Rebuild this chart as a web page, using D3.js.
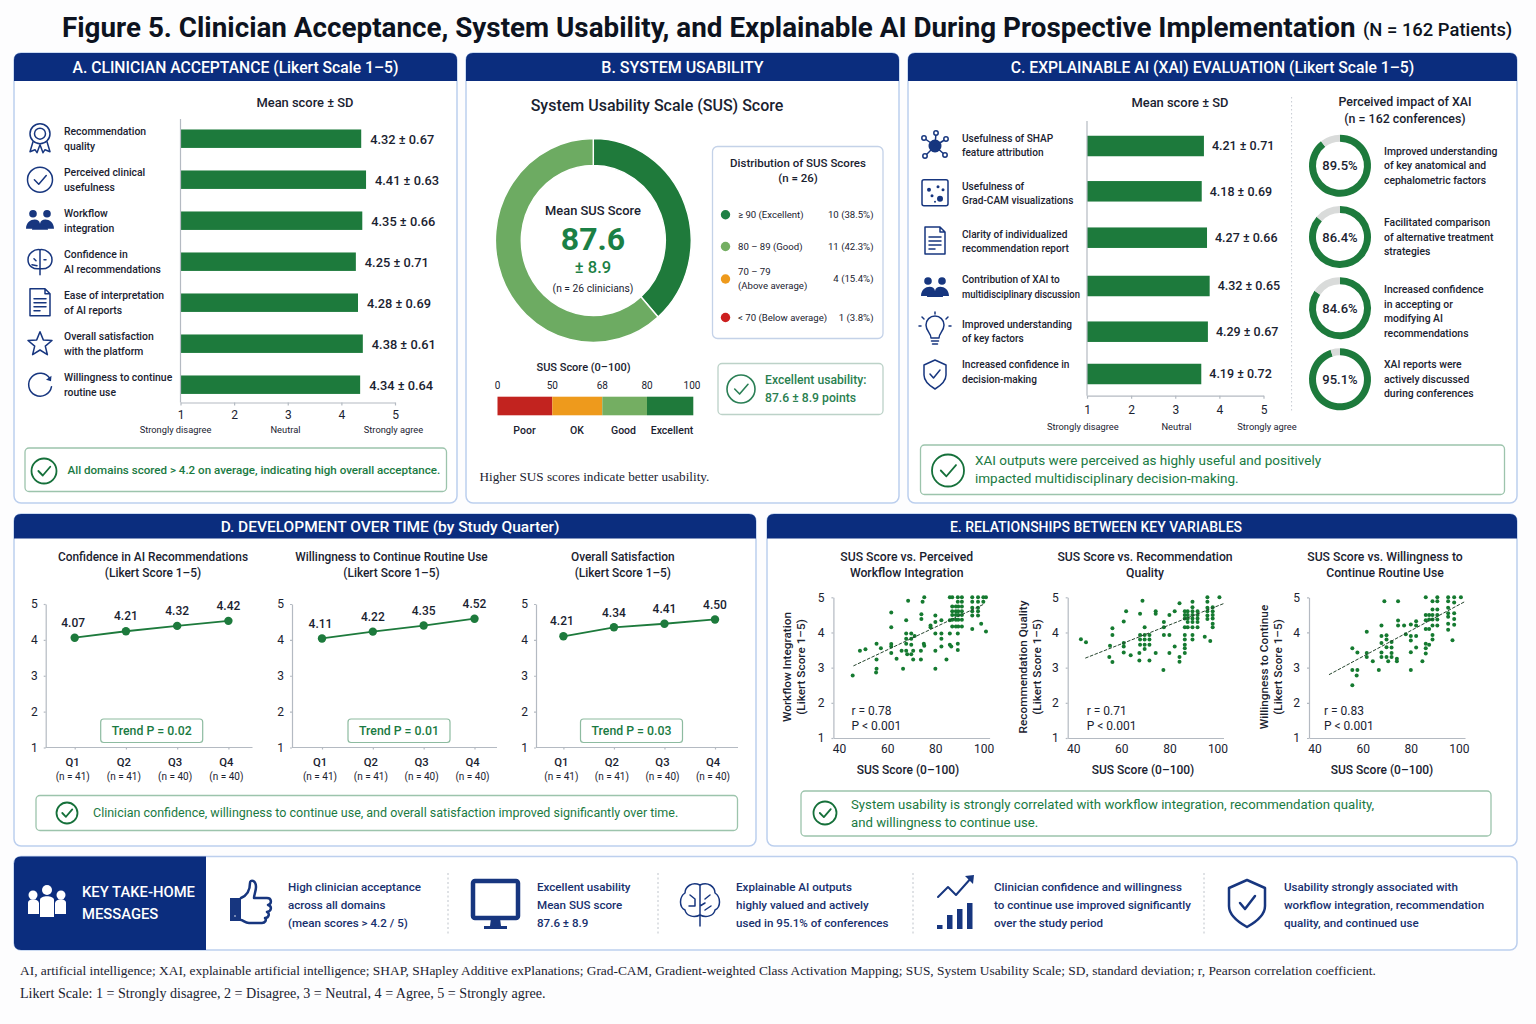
<!DOCTYPE html>
<html>
<head>
<meta charset="utf-8">
<script src="https://cdn.jsdelivr.net/npm/d3@7"></script>
<style>
body { margin: 0; background: #fdfdfe; }
svg { display: block; }
text { font-family: Roboto, "Noto Sans", sans-serif; fill: #1a2230; }
.serif { font-family: "Liberation Serif", serif; }
.axis path, .axis line { stroke: #b4bac2; stroke-width: 1.2; }
</style>
</head>
<body>
<svg width="1536" height="1024" viewBox="0 0 1536 1024"></svg>
<script>
// panel A
var aLabels = [["Recommendation", "quality"], ["Perceived clinical", "usefulness"], ["Workflow", "integration"],
	["Confidence in", "AI recommendations"], ["Ease of interpretation", "of AI reports"],
	["Overall satisfaction", "with the platform"], ["Willingness to continue", "routine use"]];
var aText = ["4.32 ± 0.67", "4.41 ± 0.63", "4.35 ± 0.66", "4.25 ± 0.71", "4.28 ± 0.69", "4.38 ± 0.61", "4.34 ± 0.64"];
// where the bars actually stop on the printed axis (differs a little from the printed means)
var aBars = [4.37, 4.46, 4.39, 4.27, 4.31, 4.40, 4.35];
var aIcons = ["medal", "check", "people", "brain", "doc", "star", "refresh"];

// panel B
var donutValues = [38.5, 61.5];
var donutColors = ["#1f7a3b", "#6dab62"];
var susRows = [
	{label: ["≥ 90 (Excellent)"], count: "10 (38.5%)", color: "#1f8045"},
	{label: ["80 – 89 (Good)"], count: "11 (42.3%)", color: "#74ae62"},
	{label: ["70 – 79", "(Above average)"], count: "4 (15.4%)", color: "#ee9a1c"},
	{label: ["< 70 (Below average)"], count: "1 (3.8%)", color: "#cc1f1f"}
];
var bandStops = [0, 50, 68, 80, 100];
var bandNames = ["Poor", "OK", "Good", "Excellent"];
var bandColors = ["#c2231f", "#ee9a1c", "#74ae62", "#1f7a3b"];

// panel C
var cLabels = [["Usefulness of SHAP", "feature attribution"], ["Usefulness of", "Grad-CAM visualizations"],
	["Clarity of individualized", "recommendation report"], ["Contribution of XAI to", "multidisciplinary discussion"],
	["Improved understanding", "of key factors"], ["Increased confidence in", "decision-making"]];
var cText = ["4.21 ± 0.71", "4.18 ± 0.69", "4.27 ± 0.66", "4.32 ± 0.65", "4.29 ± 0.67", "4.19 ± 0.72"];
// bar ends, they stop well short of the printed means
var cBars = [3.65, 3.60, 3.72, 3.78, 3.74, 3.59];
var cIcons = ["network", "image", "doc", "people", "bulb", "shield"];
var impactValues = [89.5, 86.4, 84.6, 95.1];
var impactText = [["Improved understanding", "of key anatomical and", "cephalometric factors"],
	["Facilitated comparison", "of alternative treatment", "strategies"],
	["Increased confidence", "in accepting or", "modifying AI", "recommendations"],
	["XAI reports were", "actively discussed", "during conferences"]];

// panel D
var quarters = ["Q1", "Q2", "Q3", "Q4"];
var quarterN = ["(n = 41)", "(n = 41)", "(n = 40)", "(n = 40)"];
var confidencePts = [4.06, 4.24, 4.39, 4.53];
var willingPts = [4.04, 4.23, 4.40, 4.59];
var satisfactionPts = [4.10, 4.35, 4.45, 4.57];
var confidenceText = ["4.07", "4.21", "4.32", "4.42"];
var willingText = ["4.11", "4.22", "4.35", "4.52"];
var satisfactionText = ["4.21", "4.34", "4.41", "4.50"];

// panel E, [SUS, Likert]
var workflowPts = [[45.7,2.78],[48.7,3.48],[51,3.52],[55.6,3.68],[55.6,3.23],[55.6,2.97],[55.4,2.86],[57.4,3.55],[61.7,4.57],[61.7,4.15],
	[61.7,3.67],[61.7,3.6],[61.7,3.42],[63.9,3.25],[66,3.48],[66.6,2.97],[68.7,4.9],[67.9,4.35],[67.9,3.97],[67.9,3.82],
	[67.9,3.68],[67.9,3.48],[68.3,3.38],[70,3.97],[70,3.82],[70,3.65],[70,3.38],[70.8,3.23],[71.4,3.9],[70.8,3.48],
	[74,3.48],[74,3.23],[74.2,4.52],[74.2,4.38],[75.4,5],[74.7,4.87],[75.2,3.68],[75.4,3.62],[80,4.48],[80,4.3],
	[80,3.97],[80,3.48],[80,2.97],[78,4.2],[78,4.15],[82.5,4.35],[82.5,3.97],[82.5,3.82],[82.5,3.6],[84.6,3.23],
	[86,5],[86,4.35],[86,3.97],[86,3.65],[86.6,3.6],[87,5],[87,4.74],[87,4.6],[87,4.5],[87,4.36],[87,4.17],
	[88.5,4.74],[88.5,4.6],[88.5,4.5],[88.5,4.36],[88.5,4.17],[89.3,5],[89.3,4.87],[89.5,4.74],[89.5,4.6],[89.5,4.5],[89.5,4.36],[89.5,4.17],
	[89.3,3.97],[89.3,3.68],[89.3,3.5],[91,5],[91,4.87],[91,4.74],[91,4.6],[91,4.5],[91,4.36],[91,4.17],
	[95.3,5],[95.3,4.87],[95.3,4.7],[95.3,4.6],[95.3,4.48],[95.3,4.1],[97.7,5],[97.7,4.87],[97.7,4.7],[97.7,4.6],[97.7,4.48],
	[99,4.25],[99.9,5],[99.9,4.87],[101,5],[101,4.03]];
var qualityPts = [[43.2,3.81],[45.3,3.72],[55.3,3.62],[55,3.3],[56.3,3.16],[56.3,4.12],[56.3,3.93],[61,4.31],[62,4.6],[61,3.7],
	[61,3.6],[61,3.43],[63.9,3.35],[67.8,4.53],[67.8,3.93],[67.8,3.8],[67.8,3.65],[67.5,3.42],[67.5,3.2],[68.8,4.9],
	[69.7,4.15],[69.7,3.93],[69.7,3.8],[69.7,3.65],[69.7,3.53],[71.7,3.93],[71.7,3.8],[71.7,3.65],[71.7,3.2],[74.3,3.42],
	[74.3,4.6],[74.3,4.53],[77.5,2.93],[77.7,3.93],[77.7,4.15],[77.7,4.3],[80,4.5],[80,3.93],[80,3.42],[82.2,3.6],
	[82.2,4.6],[84.2,4.83],[84.2,3.3],[84.2,3.17],[86.4,3.93],[86.4,3.8],[86.4,3.65],[86.4,3.55],[86.4,3.42],
	[86.4,4.6],[86.4,4.5],[86.4,4.4],[86.4,4.15],[87.6,4.6],[87.6,4.5],[87.6,4.4],[87.6,4.3],[87.6,4.15],
	[89.6,4.87],[89.6,4.72],[89.6,4.6],[89.6,4.5],[89.6,4.4],[89.6,4.3],[89.6,4.15],[89.6,3.93],[89.6,3.8],
	[91.7,4.6],[91.7,4.5],[91.7,4.4],[91.7,4.3],[91.7,4.15],[95.8,5],[95.8,4.87],[95.8,4.7],[95.8,4.6],[95.8,4.48],[95.8,4.38],
	[98,4.72],[98,4.6],[98,4.5],[98,4.4],[98,4.25],[98,4.15],[100.8,5],[94.7,3.88],[97,3.76]];
var continuePts = [[55.7,3.55],[55.7,2.93],[55.7,2.5],[57.8,3.43],[57.8,2.93],[57.5,2.78],[61.7,4.02],[61.7,3.42],[61.7,3.3],[64.2,3.18],
	[66.7,2.93],[67.8,4.2],[67.8,3.9],[67.8,3.7],[67.8,3.43],[67.8,3.3],[69,4.89],[69.9,3.92],[69.9,3.8],[69.9,3.58],
	[69.9,3.3],[70.6,3.18],[72,3.73],[72,3.57],[72,3.42],[72,3.3],[74.2,3.25],[74.2,3.18],[74.7,4.89],[74.7,4.34],
	[74.7,4.2],[77.2,4.2],[77.9,3.95],[80,4.23],[80,3.9],[80,3.77],[80,3.44],[80,2.93],[82.2,4.32],[82.2,4.2],
	[82.2,3.9],[82.2,3.57],[84.8,3.18],[86.2,5],[86.2,4.5],[86.2,4.35],[86.2,4.1],[86.2,3.68],[86.2,3.55],[86.2,3.4],
	[87.6,4.5],[87.6,4.37],[87.6,4.1],[87.6,3.65],[89,4.89],[89,4.65],[89,4.5],[89,4.37],[89,4.2],[89,3.93],[89,3.8],
	[91,5],[91,4.89],[91,4.65],[91,4.5],[91,4.37],[91,4.2],[95.5,5],[95.5,4.89],[95.5,4.7],[95.5,4.55],[95.5,4.45],[95.5,4.25],[95.5,4.08],
	[98,5],[98,4.85],[98,4.55],[98,4.38],[98,4.22],[97.3,3.78],[100.8,5]];
var workflowTrend = [[46,3.05],[100,4.8]];
var qualityTrend = [[45,3.27],[102.5,4.82]];
var continueTrend = [[46,2.8],[102.5,4.88]];

var takeHome = [["High clinician acceptance", "across all domains", "(mean scores > 4.2 / 5)"],
	["Excellent usability", "Mean SUS score", "87.6 ± 8.9"],
	["Explainable AI outputs", "highly valued and actively", "used in 95.1% of conferences"],
	["Clinician confidence and willingness", "to continue use improved significantly", "over the study period"],
	["Usability strongly associated with", "workflow integration, recommendation", "quality, and continued use"]];

var NAVY = "#0b2d7e", ICON = "#17367f", GREEN = "#1d7a3c", CALL = "#1a7a42", EDGE = "#bccfee", CARD = "#bcd2c8";
var svg = d3.select("svg");

function label(g, str, x, y, size, opt) {
	opt = opt || {};
	return g.append("text").attr("x", x).attr("y", y).attr("dy", "0.35em")
		.attr("text-anchor", opt.anchor || "start")
		.attr("font-size", size)
		.attr("font-weight", opt.weight || 400)
		.attr("class", opt.cls || null)
		.style("fill", opt.fill || null)
		.text(str);
}

function lines(g, arr, x, yc, lh, size, opt) {
	arr.forEach(function(s, i) {
		label(g, s, x, yc + (i - (arr.length - 1) / 2) * lh, size, opt);
	});
}

function panel(x, y, w, h, head, title, size, titleX) {
	var r = 7;
	svg.append("rect").attr("x", x).attr("y", y).attr("width", w).attr("height", h).attr("rx", r)
		.attr("fill", "#fff").attr("stroke", EDGE).attr("stroke-width", 1.5);
	svg.append("path")
		.attr("d", "M" + x + "," + (y + head) + "V" + (y + r) + "Q" + x + "," + y + " " + (x + r) + "," + y
			+ "H" + (x + w - r) + "Q" + (x + w) + "," + y + " " + (x + w) + "," + (y + r) + "V" + (y + head) + "Z")
		.attr("fill", NAVY);
	label(svg, title, titleX || x + w / 2, y + head / 2 + 0.5, size, {anchor: "middle", weight: 500, fill: "#fff"});
}

function checkMark(g, cx, cy, r, sw, col) {
	g.append("circle").attr("cx", cx).attr("cy", cy).attr("r", r).attr("fill", "none").attr("stroke", col).attr("stroke-width", sw);
	g.append("path").attr("d", "M" + (cx - r * 0.45) + "," + cy + "L" + (cx - r * 0.1) + "," + (cy + r * 0.36) + "L" + (cx + r * 0.5) + "," + (cy - r * 0.34))
		.attr("fill", "none").attr("stroke", col).attr("stroke-width", sw).attr("stroke-linecap", "round").attr("stroke-linejoin", "round");
}

function callout(x, y, w, h, icx, icy, icr, txt, tx, size, weight) {
	svg.append("rect").attr("x", x).attr("y", y).attr("width", w).attr("height", h).attr("rx", 4)
		.attr("fill", "#fff").attr("stroke", "#9cc4ac").attr("stroke-width", 1.3);
	checkMark(svg, icx, icy, icr, 1.8, "#15703a");
	lines(svg, txt, tx, y + h / 2, txt.length > 1 ? 18 : 0, size, {fill: CALL, weight: weight || 400});
}

function icon(name, cx, cy, col) {
	col = col || ICON;
	var g = svg.append("g").attr("transform", "translate(" + cx + "," + cy + ")")
		.attr("fill", "none").attr("stroke", col).attr("stroke-width", 1.5)
		.attr("stroke-linecap", "round").attr("stroke-linejoin", "round");
	function p(d, fill) {
		var e = g.append("path").attr("d", d);
		if (fill) e.attr("fill", col).attr("stroke", "none");
		return e;
	}
	function c(x, y, r, fill) {
		var e = g.append("circle").attr("cx", x).attr("cy", y).attr("r", r);
		if (fill) e.attr("fill", col).attr("stroke", "none");
		return e;
	}
	if (name == "medal") {
		c(0, -5, 10); c(0, -5, 5.5);
		p("M-7,3L-10,13L-5,11L-3,14L0,6L3,14L5,11L10,13L7,3");
	} else if (name == "check") {
		checkMark(g, 0, 0, 12.5, 1.5, col);
	} else if (name == "people") {
		c(-7, -7, 3.8, 1); c(7, -7, 3.8, 1);
		p("M-14,8C-14,-2 -1,-4 0,3C1,-4 14,-2 14,8Z", 1);
		p("M-8,9C-8,2 8,2 8,9Z", 1);
	} else if (name == "brain") {
		p("M0,-12C-6,-13 -12,-8 -12,-2C-12,4 -7,8 0,7C7,8 12,4 12,-2C12,-8 6,-13 0,-12Z");
		p("M0,-12V13M-6,-3L-4,-1M4,-2L6,-2M-8,3L-3,4");
	} else if (name == "doc") {
		p("M-10,-14H5L10,-9V13H-10ZM5,-14V-9H10");
		p("M-6,-4H6M-6,0H6M-6,4H6M-6,8H0");
	} else if (name == "star") {
		p("M0,-12L3.3,-3.8L12,-3.2L5.3,2.4L7.4,11L0,6.3L-7.4,11L-5.3,2.4L-12,-3.2L-3.3,-3.8Z");
	} else if (name == "refresh") {
		p("M10,-6A11.5,11.5 0 1 0 11.5,2");
		p("M11.5,-9L11,-3.5L6,-5", 1);
	} else if (name == "network") {
		c(0, 0, 6.5, 1);
		[[-11, -8], [1, -13], [11, -7], [10, 9], [-10, 10]].forEach(function(d) {
			p("M0,0L" + d[0] + "," + d[1]);
			c(d[0], d[1], 2.2).attr("fill", "#fff");
		});
	} else if (name == "image") {
		g.append("rect").attr("x", -13).attr("y", -13).attr("width", 26).attr("height", 26).attr("rx", 2);
		[[-6, -3, 2], [-3, 3, 1.5], [3, -6, 1.5], [5, 6, 3], [8, -3, 1.5], [0, 9, 1]].forEach(function(d) { c(d[0], d[1], d[2], 1); });
	} else if (name == "bulb") {
		p("M-4,8C-4,3 -9,1 -9,-5A9,9 0 0 1 9,-5C9,1 4,3 4,8Z");
		p("M-3.5,11H3.5M-2.5,14H2.5M0,-18V-16M-13,-13L-11,-11M13,-13L11,-11M-16,-4H-14M14,-4H16");
	} else if (name == "shield") {
		p("M0,-14L11,-9V1C11,8 5,12 0,15C-5,12 -11,8 -11,1V-9Z");
		p("M-5,0L-1.5,4L5,-4");
	} else if (name == "thumb") {
		p("M-21,-5H-10V18H-21Z", 1);
		c(-16, 13, 1.5).attr("fill", "#fff");
		p("M-10,-5C-3,-8 -1,-14 -1,-20C-1,-24 5,-23 5,-16C5,-12 3,-8 3,-5H16C21,-5 21,1 17,2C21,3 21,8 16,9C19,10 18,15 14,15C16,17 14,20 11,20H-2C-6,20 -8,17 -10,17").attr("stroke-width", 2.5);
	} else if (name == "monitor") {
		g.append("rect").attr("x", -22).attr("y", -22).attr("width", 45).attr("height", 37).attr("rx", 2).attr("stroke-width", 4.5);
		p("M-4,15L-5,23H6L5,15Z", 1);
		p("M-11,23H12V26H-11Z", 1);
	} else if (name == "bigBrain") {
		p("M0,-18C-8,-22 -15,-16 -15,-10C-21,-6 -21,4 -15,7C-14,13 -6,15 0,12C6,15 14,13 15,7C21,4 21,-6 15,-10C15,-16 8,-22 0,-18Z");
		p("M0,-18V23M-10,-8L-5,-4V3M-11,3L-5,3M10,-8L5,-4M11,3L5,7M0,3L5,0");
	} else if (name == "growth") {
		p("M-18,-6L-8,-16L0,-8L16,-26").attr("stroke-width", 2);
		p("M9,-27L18,-28L17,-19Z", 1);
		[[-19, 10], [-9, 0], [1, -6], [11, -12]].forEach(function(d) {
			g.append("rect").attr("x", d[0]).attr("y", d[1] + 12).attr("width", 5.5).attr("height", 10 - d[1] + 4).attr("fill", col).attr("stroke", "none");
		});
	} else if (name == "bigShield") {
		p("M0,-23L18,-15V3C18,12 9,19 0,24C-9,19 -18,12 -18,3V-15Z").attr("stroke-width", 2.5);
		p("M-7,0L-2,6L8,-7").attr("stroke-width", 2.5);
	} else if (name == "crowd") {
		g.attr("stroke", "none").attr("fill", "#fff");
		c(-14, -7, 4.5).attr("stroke", "none"); c(0, -12, 5).attr("stroke", "none"); c(14, -7, 4.5).attr("stroke", "none");
		p("M-19,12V1C-19,-4 -9,-4 -8,1V12Z"); p("M8,12V1C9,-4 19,-4 19,1V12Z"); p("M-7,15V-2C-7,-7 7,-7 7,-2V15Z");
	}
}

function axisStyle(g, size) {
	g.attr("class", "axis");
	g.selectAll("text").attr("font-size", size).style("fill", "#1a2230");
}

// title
label(svg, "Figure 5. Clinician Acceptance, System Usability, and Explainable AI During Prospective Implementation", 62, 27, 27.8, {weight: 700, fill: "#0d1320"});
label(svg, "(N = 162 Patients)", 1363, 30, 18.4, {weight: 500, fill: "#0d1320"});

// ---- A
panel(14, 53, 443, 450, 28, "A. CLINICIAN ACCEPTANCE (Likert Scale 1–5)", 15.7);
label(svg, "Mean score ± SD", 305, 102, 12.9, {anchor: "middle", weight: 500});

var ax = d3.scaleLinear().domain([1, 5]).range([180.5, 395]);
var ay = d3.scaleBand().domain(d3.range(aBars.length)).range([118.2, 405.2]).paddingInner(0.55).paddingOuter(0.275);
svg.append("g").selectAll("rect").data(aBars).join("rect")
	.attr("x", ax(1)).attr("y", function(d, i) { return ay(i); })
	.attr("width", function(d) { return ax(d) - ax(1); }).attr("height", ay.bandwidth())
	.attr("fill", GREEN);
var aAxis = svg.append("g").attr("transform", "translate(0,402.5)")
	.call(d3.axisBottom(ax).tickValues([1, 2, 3, 4, 5]).tickFormat(d3.format("d")).tickSize(3).tickSizeOuter(0).tickPadding(5));
axisStyle(aAxis, 12);
svg.append("line").attr("x1", ax(1)).attr("x2", ax(1)).attr("y1", 119).attr("y2", 402.5).attr("stroke", "#b4bac2").attr("stroke-width", 1.2);
aLabels.forEach(function(t, i) {
	var yc = ay(i) + ay.bandwidth() / 2;
	icon(aIcons[i], 40, yc);
	lines(svg, t, 64, yc, 14.6, 10.4, {weight: 500});
	label(svg, aText[i], ax(aBars[i]) + 9, yc + 0.5, 12.8, {weight: 500});
});
label(svg, "Strongly disagree", 175.5, 430, 9.3, {anchor: "middle"});
label(svg, "Neutral", 285.5, 430, 9.3, {anchor: "middle"});
label(svg, "Strongly agree", 393.5, 430, 9.3, {anchor: "middle"});
callout(25, 448, 421.5, 43.5, 44, 471, 12.5, ["All domains scored > 4.2 on average, indicating high overall acceptance."], 67.5, 11.6, 500);

// ---- B
panel(466, 53, 433, 450, 28, "B. SYSTEM USABILITY", 16);
label(svg, "System Usability Scale (SUS) Score", 657, 105, 16, {anchor: "middle", weight: 500});

var pie = d3.pie().sort(null);
var arc = d3.arc().innerRadius(75).outerRadius(102);
svg.append("g").attr("transform", "translate(593.3,240.5) scale(0.96,1)")
	.selectAll("path").data(pie(donutValues)).join("path")
	.attr("d", arc)
	.attr("fill", function(d, i) { return donutColors[i]; })
	.attr("stroke", "#fff").attr("stroke-width", 1.5);
label(svg, "Mean SUS Score", 593, 210, 12.9, {anchor: "middle", weight: 500});
label(svg, "87.6", 593, 239, 32, {anchor: "middle", weight: 700, fill: "#1b8045"});
label(svg, "± 8.9", 593, 267, 16.5, {anchor: "middle", weight: 500, fill: "#1b8045"});
label(svg, "(n = 26 clinicians)", 593, 288, 10.3, {anchor: "middle"});

svg.append("rect").attr("x", 712.5).attr("y", 146.5).attr("width", 170.5).attr("height", 192).attr("rx", 5)
	.attr("fill", "#fff").attr("stroke", "#c4d2e8").attr("stroke-width", 1.3);
lines(svg, ["Distribution of SUS Scores", "(n = 26)"], 798, 170.5, 15.5, 11.5, {anchor: "middle", weight: 500});
var rowY = [214.7, 246.5, 279, 317.5];
susRows.forEach(function(r, i) {
	svg.append("circle").attr("cx", 725.5).attr("cy", rowY[i]).attr("r", 4.7).attr("fill", r.color);
	lines(svg, r.label, 738, rowY[i], 14, 9.6, {});
	label(svg, r.count, 873.5, rowY[i], 9.6, {anchor: "end"});
});

var bx = d3.scaleLinear().domain(bandStops).range([497.5, 552.3, 602.3, 647, 693.3]);
label(svg, "SUS Score (0–100)", 583.5, 367, 11, {anchor: "middle", weight: 500});
svg.append("g").selectAll("rect").data(bandNames).join("rect")
	.attr("x", function(d, i) { return bx(bandStops[i]); })
	.attr("y", 396.7)
	.attr("width", function(d, i) { return bx(bandStops[i + 1]) - bx(bandStops[i]); })
	.attr("height", 18.6)
	.attr("fill", function(d, i) { return bandColors[i]; });
bandStops.forEach(function(s) {
	label(svg, String(s), s == 100 ? 692 : bx(s), 385, 10, {anchor: "middle"});
});
var bandNameX = [524.5, 577, 623.5, 672];
bandNames.forEach(function(n, i) {
	label(svg, n, bandNameX[i], 430, 10.5, {anchor: "middle", weight: 500});
});
svg.append("rect").attr("x", 718).attr("y", 363.5).attr("width", 165).attr("height", 51).attr("rx", 4)
	.attr("fill", "#fff").attr("stroke", CARD).attr("stroke-width", 1.3);
checkMark(svg, 741, 389, 14, 1.6, "#2a7f55");
lines(svg, ["Excellent usability:", "87.6 ± 8.9 points"], 765, 389, 18, 12.2, {fill: "#2a8050", weight: 500});
label(svg, "Higher SUS scores indicate better usability.", 479.5, 476, 13.2, {cls: "serif"});

// ---- C
panel(908, 53, 609, 450, 28, "C. EXPLAINABLE AI (XAI) EVALUATION (Likert Scale 1–5)", 15.7);
label(svg, "Mean score ± SD", 1180, 102, 12.9, {anchor: "middle", weight: 500});

var cx = d3.scaleLinear().domain([1, 5]).range([1087, 1263.5]);
var cy = d3.scaleOrdinal().domain(d3.range(cBars.length)).range([146, 191.3, 237.7, 286, 331.7, 374]);
var cRowH = 20.5;
var cTextY = [145.3, 193.3, 241.7, 287, 331.5, 372];
var cIconY = [146, 192.7, 241, 288, 330, 374];
svg.append("g").selectAll("rect").data(cBars).join("rect")
	.attr("x", cx(1)).attr("y", function(d, i) { return cy(i) - cRowH / 2; })
	.attr("width", function(d) { return cx(d) - cx(1); }).attr("height", cRowH)
	.attr("fill", GREEN);
var cAxis = svg.append("g").attr("transform", "translate(0,395.7)")
	.call(d3.axisBottom(cx).tickValues([1, 2, 3, 4, 5]).tickFormat(d3.format("d")).tickSize(3).tickSizeOuter(0).tickPadding(7));
axisStyle(cAxis, 12);
svg.append("line").attr("x1", cx(1)).attr("x2", cx(1)).attr("y1", 121).attr("y2", 395.7).attr("stroke", "#b4bac2").attr("stroke-width", 1.2);
cLabels.forEach(function(t, i) {
	icon(cIcons[i], 935, cIconY[i]);
	lines(svg, t, 962, cTextY[i], 14.4, 10.1, {weight: 500});
	label(svg, cText[i], cx(cBars[i]) + 8, cy(i), 12.5, {weight: 500});
});
label(svg, "Strongly disagree", 1082.8, 426.7, 9.3, {anchor: "middle"});
label(svg, "Neutral", 1176.5, 426.7, 9.3, {anchor: "middle"});
label(svg, "Strongly agree", 1267, 426.7, 9.3, {anchor: "middle"});

svg.append("line").attr("x1", 1291.6).attr("x2", 1291.6).attr("y1", 97).attr("y2", 413)
	.attr("stroke", "#c6cbd2").attr("stroke-dasharray", "1.5 2.5");
lines(svg, ["Perceived impact of XAI", "(n = 162 conferences)"], 1405, 110.5, 17, 12.4, {anchor: "middle", weight: 500});

var impactY = [165.7, 237, 308.3, 379.3];
var miniArc = d3.arc().innerRadius(24).outerRadius(31);
impactValues.forEach(function(v, i) {
	svg.append("g").attr("transform", "translate(1340," + impactY[i] + ")")
		.selectAll("path").data(pie([v, 100 - v])).join("path")
		.attr("d", miniArc)
		.attr("fill", function(d, k) { return k == 0 ? GREEN : "#d9dbda"; });
	label(svg, v.toFixed(1) + "%", 1340, impactY[i], 13, {anchor: "middle", weight: 500});
	lines(svg, impactText[i], 1384, impactY[i] + (i == 2 ? 3 : 0), 14.5, 10.4, {weight: 500});
});
callout(920.5, 445, 584, 49.5, 948, 470.5, 16, ["XAI outputs were perceived as highly useful and positively", "impacted multidisciplinary decision-making."], 975, 13.5);

// ---- D
panel(14, 514, 742, 332, 24.5, "D. DEVELOPMENT OVER TIME (by Study Quarter)", 15.5, 390);

var lineCharts = [
	{title: ["Confidence in AI Recommendations", "(Likert Score 1–5)"], pts: confidencePts, txt: confidenceText, p: "Trend P = 0.02",
		ax: 45.7, end: 252.5, q: [74.7, 228.4], cx: 153, box: 100.7},
	{title: ["Willingness to Continue Routine Use", "(Likert Score 1–5)"], pts: willingPts, txt: willingText, p: "Trend P = 0.01",
		ax: 292, end: 497, q: [322, 474.5], cx: 391.5, box: 348},
	{title: ["Overall Satisfaction", "(Likert Score 1–5)"], pts: satisfactionPts, txt: satisfactionText, p: "Trend P = 0.03",
		ax: 536, end: 738, q: [563.4, 715], cx: 622.8, box: 580.5}
];
var ly = d3.scaleLinear().domain([1, 5]).range([747.5, 604]);
lineCharts.forEach(function(c) {
	lines(svg, c.title, c.cx, 565, 15.6, 11.9, {anchor: "middle", weight: 500});
	var lx = d3.scalePoint().domain(quarters).range(c.q);
	var yAxis = svg.append("g").attr("transform", "translate(" + c.ax + ",0)")
		.call(d3.axisLeft(ly).tickValues([1, 2, 3, 4, 5]).tickFormat(d3.format("d")).tickSize(2).tickSizeOuter(0).tickPadding(6));
	axisStyle(yAxis, 12);
	var xAxis = svg.append("g").attr("transform", "translate(0,747.5)")
		.call(d3.axisBottom(lx).tickSize(2).tickSizeOuter(0).tickFormat(""));
	axisStyle(xAxis, 11);
	xAxis.select(".domain").attr("d", "M" + c.ax + ",0H" + c.end);
	var path = d3.line().x(function(d, i) { return lx(quarters[i]); }).y(function(d) { return ly(d); });
	svg.append("path").attr("d", path(c.pts)).attr("fill", "none").attr("stroke", GREEN).attr("stroke-width", 1.8);
	svg.append("g").selectAll("circle").data(c.pts).join("circle")
		.attr("cx", function(d, i) { return lx(quarters[i]); }).attr("cy", function(d) { return ly(d); })
		.attr("r", 4.2).attr("fill", GREEN);
	c.pts.forEach(function(v, i) {
		label(svg, c.txt[i], lx(quarters[i]) - (i == 0 ? 1.5 : 0), ly(v) - 15, 12, {anchor: "middle", weight: 500});
		label(svg, quarters[i], lx(quarters[i]) - 2, 761.7, 11.3, {anchor: "middle", weight: 500});
		label(svg, quarterN[i], lx(quarters[i]) - 2, 776, 10, {anchor: "middle"});
	});
	svg.append("rect").attr("x", c.box).attr("y", 719).attr("width", 102).attr("height", 23.5).attr("rx", 3)
		.attr("fill", "#fff").attr("stroke", "#8dbba0").attr("stroke-width", 1.2);
	label(svg, c.p, c.box + 51, 731, 12.3, {anchor: "middle", fill: CALL, weight: 500});
});
callout(36, 795.5, 701.5, 35, 67, 813, 10.5, ["Clinician confidence, willingness to continue use, and overall satisfaction improved significantly over time."], 93, 12.5);

// ---- E
panel(767, 514, 750, 332, 24.5, "E. RELATIONSHIPS BETWEEN KEY VARIABLES", 14, 1096);

var scatters = [
	{title: ["SUS Score vs. Perceived", "Workflow Integration"], cx: 906.7, yl: ["Workflow Integration", "(Likert Score 1–5)"], ylx: 794, range: [833.4, 989.6],
		pts: workflowPts, trend: workflowTrend, r: "r = 0.78", rx: 851.5, xl: 908},
	{title: ["SUS Score vs. Recommendation", "Quality"], cx: 1145, yl: ["Recommendation Quality", "(Likert Score 1–5)"], ylx: 1030, range: [1067.7, 1223.5],
		pts: qualityPts, trend: qualityTrend, r: "r = 0.71", rx: 1086.7, xl: 1143},
	{title: ["SUS Score vs. Willingness to", "Continue Routine Use"], cx: 1385, yl: ["Willingness to Continue", "(Likert Score 1–5)"], ylx: 1271, range: [1309, 1465],
		pts: continuePts, trend: continueTrend, r: "r = 0.83", rx: 1324, xl: 1382}
];
var sy = d3.scaleLinear().domain([1, 5]).range([738, 597.3]);
scatters.forEach(function(s) {
	lines(svg, s.title, s.cx, 564.7, 16, 12.2, {anchor: "middle", weight: 500});
	var sx = d3.scaleLinear().domain([37.7, 102.5]).range(s.range);
	var yAxis = svg.append("g").attr("transform", "translate(" + s.range[0] + ",0)")
		.call(d3.axisLeft(sy).tickValues([1, 2, 3, 4, 5]).tickFormat(d3.format("d")).tickSize(2).tickSizeOuter(0).tickPadding(7));
	axisStyle(yAxis, 12);
	var xAxis = svg.append("g").attr("transform", "translate(0,738)")
		.call(d3.axisBottom(sx).tickValues([40, 60, 80, 100]).tickSize(0).tickSizeOuter(0).tickPadding(6));
	axisStyle(xAxis, 12);
	svg.append("g").selectAll("circle").data(s.pts).join("circle")
		.attr("cx", function(d) { return sx(d[0]); }).attr("cy", function(d) { return sy(d[1]); })
		.attr("r", 2).attr("fill", "#157a30");
	var trend = d3.line().x(function(d) { return sx(d[0]); }).y(function(d) { return sy(d[1]); });
	svg.append("path").attr("d", trend(s.trend)).attr("fill", "none").attr("stroke", "#26452e")
		.attr("stroke-width", 1).attr("stroke-dasharray", "3.5 1.5");
	label(svg, s.r, s.rx, 710.7, 12, {});
	label(svg, "P < 0.001", s.rx, 726, 12, {});
	label(svg, "SUS Score (0–100)", s.xl, 769.5, 12, {anchor: "middle", weight: 500});
	s.yl.forEach(function(t, i) {
		svg.append("text").attr("transform", "translate(" + (s.ylx + (i - 0.5) * 14.6) + ",667) rotate(-90)")
			.attr("text-anchor", "middle").attr("dy", "0.35em").attr("font-size", 11.8).attr("font-weight", 500).text(t);
	});
});
callout(801, 791, 690, 45, 825, 813, 11.5, ["System usability is strongly correlated with workflow integration, recommendation quality,", "and willingness to continue use."], 851, 13.2);

// ---- key messages
svg.append("rect").attr("x", 14).attr("y", 856.5).attr("width", 1503).attr("height", 93.5).attr("rx", 7)
	.attr("fill", "#fff").attr("stroke", EDGE).attr("stroke-width", 1.5);
svg.append("path").attr("d", "M206,856.5H21Q14,856.5 14,863.5V943Q14,950 21,950H206Z").attr("fill", NAVY);
icon("crowd", 47, 902, "#fff");
lines(svg, ["KEY TAKE-HOME", "MESSAGES"], 82, 903, 22, 14.8, {weight: 500, fill: "#fff"});
var msgX = [288, 537, 736, 994, 1284];
var msgIcons = ["thumb", "monitor", "bigBrain", "growth", "bigShield"];
var msgIconX = [251, 495, 700, 956, 1247];
var sepX = [448, 658, 913, 1204];
takeHome.forEach(function(t, i) {
	icon(msgIcons[i], msgIconX[i], 903);
	lines(svg, t, msgX[i], 905, 18, 11.6, {fill: "#17306e", weight: 500});
});
sepX.forEach(function(x) {
	svg.append("line").attr("x1", x).attr("x2", x).attr("y1", 873).attr("y2", 935)
		.attr("stroke", "#bfc4cb").attr("stroke-dasharray", "2 2.5");
});

// footnotes
label(svg, "AI, artificial intelligence; XAI, explainable artificial intelligence; SHAP, SHapley Additive exPlanations; Grad-CAM, Gradient-weighted Class Activation Mapping; SUS, System Usability Scale; SD, standard deviation; r, Pearson correlation coefficient.", 20, 970.5, 13.4, {cls: "serif"});
label(svg, "Likert Scale: 1 = Strongly disagree, 2 = Disagree, 3 = Neutral, 4 = Agree, 5 = Strongly agree.", 20, 993, 14.1, {cls: "serif"});

// this one line is set tighter than its neighbours in the figure
d3.selectAll("text").filter(function() { return this.textContent == "multidisciplinary discussion"; })
	.attr("textLength", 118).attr("lengthAdjust", "spacingAndGlyphs");
</script>
</body>
</html>
